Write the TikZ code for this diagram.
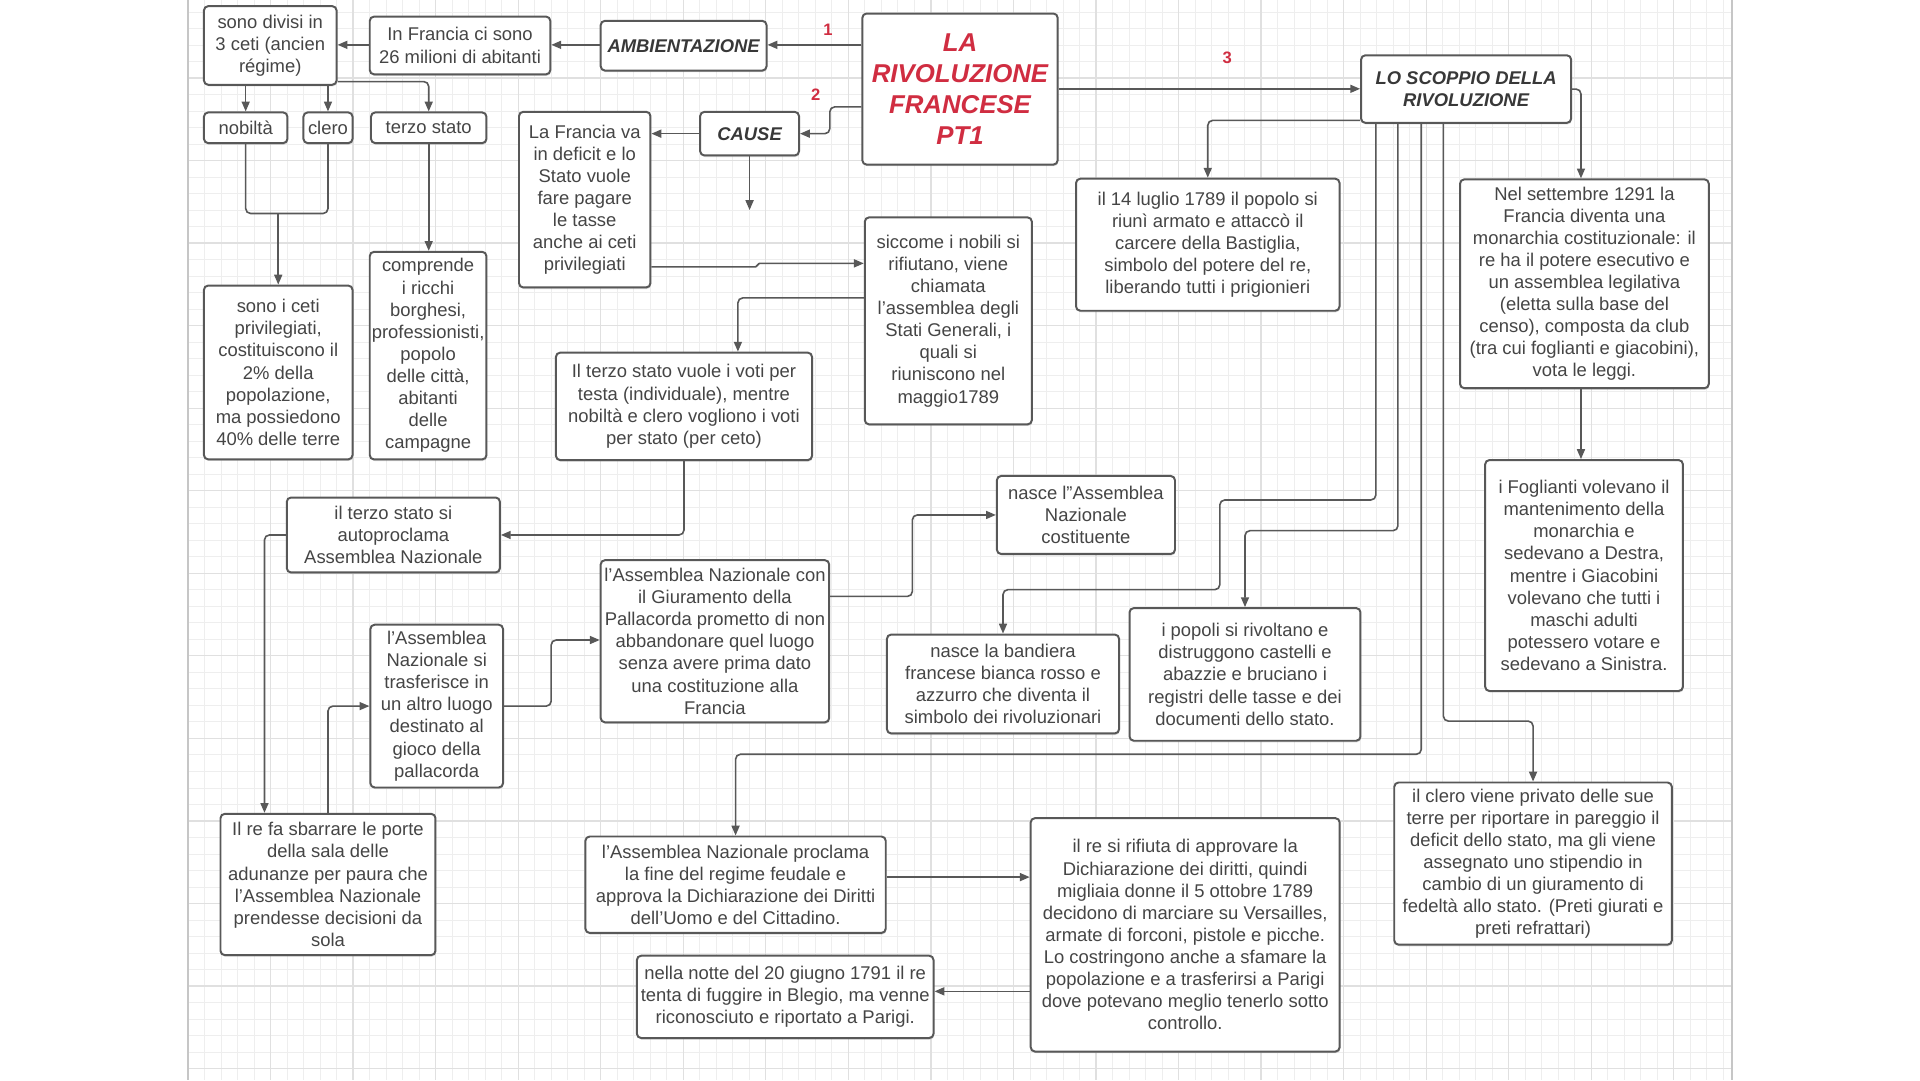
\documentclass[tikz,border=0pt]{standalone}
\usepackage{fontspec}
\setmainfont{Liberation Sans}
\usetikzlibrary{arrows.meta,shadows}
\definecolor{bordc}{HTML}{585858}
\definecolor{txtc}{HTML}{454545}
\definecolor{redc}{RGB}{208,45,65}
\definecolor{gridminor}{HTML}{EEEEEE}
\definecolor{gridmajor}{HTML}{E0E0E0}
\tikzset{
  box/.style={draw=bordc, line width=1.6pt, rounded corners=3.5pt, fill=white, text=txtc,
    align=center, inner sep=0pt, font=\fontsize{15}{18}\selectfont,
    drop shadow={shadow xshift=0.5pt,shadow yshift=-1.3pt,opacity=0.3}},
  headbox/.style={box, font=\fontsize{15}{18}\selectfont\bfseries\itshape, text=black!78},
  conn/.style={draw=bordc, line width=1.3pt, rounded corners=4pt},
  arr/.style={conn, -{Triangle[length=8pt,width=6.5pt]}},
  num/.style={text=redc, font=\fontsize{13.5}{15}\selectfont\bfseries, inner sep=0pt},
}
\begin{document}
\begin{tikzpicture}[x=1pt,y=-1pt]
\useasboundingbox (0,0) rectangle (1563,879.2);
\fill[white] (0,0) rectangle (1563,879.2);
% grid
\foreach \i in {0,...,93} \draw[gridminor, line width=0.7pt] ({153+\i*13.44},0) -- ({153+\i*13.44},879.2);
\foreach \k in {-4,...,60} \draw[gridminor, line width=0.7pt] (153,{63.5+\k*13.44}) -- (1410,{63.5+\k*13.44});
\foreach \i in {0,...,18} \draw[gridmajor, line width=1pt] ({153+\i*67.2},0) -- ({153+\i*67.2},879.2);
\foreach \k in {0,...,12} \draw[gridmajor, line width=1pt] (153,{63.5+\k*67.2}) -- (1410,{63.5+\k*67.2});
\draw[gray!45, line width=1.5pt] (153,0) -- (153,879.2);
\draw[gray!45, line width=1.5pt] (1410,0) -- (1410,879.2);

% nodes
\node[box, minimum width=159pt, minimum height=123pt, font=\fontsize{21}{25}\selectfont\bfseries\itshape, text=redc] (title) at (781.5,72.5) {LA\\RIVOLUZIONE\\FRANCESE\\PT1};
\node[headbox, minimum width=135pt, minimum height=40.5pt] (amb) at (556.5,37.2) {AMBIENTAZIONE};
\node[box, minimum width=147pt, minimum height=47pt] (francia) at (374.5,37) {In Francia ci sono\\26 milioni di abitanti};
\node[box, minimum width=108pt, minimum height=64pt] (divisi) at (220,37) {sono divisi in\\3 ceti (ancien\\régime)};
\node[box, minimum width=68pt, minimum height=25pt] (nobilta) at (200,104) {nobiltà};
\node[box, minimum width=40pt, minimum height=25pt] (clero) at (267,104) {clero};
\node[box, minimum width=94pt, minimum height=25pt] (terzo) at (349,104) {terzo stato};
\node[box, minimum width=121pt, minimum height=141.5pt] (privil) at (226.5,303.2) {sono i ceti\\privilegiati,\\costituiscono il\\2\% della\\popolazione,\\ma possiedono\\40\% delle terre};
\node[box, minimum width=95pt, minimum height=169pt] (comprende) at (348.5,289.5) {comprende\\i ricchi\\borghesi,\\professionisti,\\popolo\\delle città,\\abitanti\\delle\\campagne};
\node[headbox, minimum width=80.5pt, minimum height=35.5pt] (cause) at (610.2,108.8) {CAUSE};
\node[box, minimum width=107pt, minimum height=143pt] (deficit) at (476,162.5) {La Francia va\\in deficit e lo\\Stato vuole\\fare pagare\\le tasse\\anche ai ceti\\privilegiati};
\node[box, minimum width=136pt, minimum height=168.5pt] (siccome) at (772,261.2) {siccome i nobili si\\rifiutano, viene\\chiamata\\l'assemblea degli\\Stati Generali, i\\quali si\\riuniscono nel\\maggio1789};
\node[box, minimum width=208.5pt, minimum height=87.5pt] (votiper) at (556.8,330.8) {Il terzo stato vuole i voti per\\testa (individuale), mentre\\nobiltà e clero vogliono i voti\\per stato (per ceto)};
\node[box, minimum width=173.5pt, minimum height=61pt] (autopro) at (320.2,435.5) {il terzo stato si\\autoproclama\\Assemblea Nazionale};
\node[box, minimum width=186pt, minimum height=132pt] (giuram) at (582,522) {l'Assemblea Nazionale con\\il Giuramento della\\Pallacorda prometto di non\\abbandonare quel luogo\\senza avere prima dato\\una costituzione alla\\Francia};
\node[box, minimum width=145pt, minimum height=63.5pt] (costit) at (884,419.2) {nasce l"Assemblea\\Nazionale\\costituente};
\node[box, minimum width=108pt, minimum height=132.5pt] (trasf) at (355.5,574.8) {l'Assemblea\\Nazionale si\\trasferisce in\\un altro luogo\\destinato al\\gioco della\\pallacorda};
\node[box, minimum width=175pt, minimum height=115pt] (sbarrare) at (267,720) {Il re fa sbarrare le porte\\della sala delle\\adunanze per paura che\\l'Assemblea Nazionale\\prendesse decisioni da\\sola};
\node[box, minimum width=214.5pt, minimum height=107.5pt] (luglio) at (983.2,199.2) {il 14 luglio 1789 il popolo si\\riunì armato e attaccò il\\carcere della Bastiglia,\\simbolo del potere del re,\\liberando tutti i prigionieri};
\node[headbox, minimum width=171pt, minimum height=55pt] (scoppio) at (1193.5,72.5) {LO SCOPPIO DELLA\\RIVOLUZIONE};
\node[box, minimum width=202.5pt, minimum height=170pt] (settembre) at (1289.8,231) {Nel settembre 1291 la\\Francia diventa una\\monarchia costituzionale: il\\re ha il potere esecutivo e\\un assemblea legilativa\\(eletta sulla base del\\censo), composta da club\\(tra cui foglianti e giacobini),\\vota le leggi.};
\node[box, minimum width=161pt, minimum height=188pt] (foglianti) at (1289.5,468.5) {i Foglianti volevano il\\mantenimento della\\monarchia e\\sedevano a Destra,\\mentre i Giacobini\\volevano che tutti i\\maschi adulti\\potessero votare e\\sedevano a Sinistra.};
\node[box, minimum width=189pt, minimum height=80.5pt] (bandiera) at (816.5,556.8) {nasce la bandiera\\francese bianca rosso e\\azzurro che diventa il\\simbolo dei rivoluzionari};
\node[box, minimum width=188pt, minimum height=108pt] (popoli) at (1013.5,549) {i popoli si rivoltano e\\distruggono castelli e\\abazzie e bruciano i\\registri delle tasse e dei\\documenti dello stato.};
\node[box, minimum width=226pt, minimum height=132pt] (clerov) at (1248,703) {il clero viene privato delle sue\\terre per riportare in pareggio il\\deficit dello stato, ma gli viene\\assegnato uno stipendio in\\cambio di un giuramento di\\fedeltà allo stato. (Preti giurati e\\preti refrattari)};
\node[box, minimum width=244.5pt, minimum height=78.5pt] (feudale) at (598.8,720.2) {l'Assemblea Nazionale proclama\\la fine del regime feudale e\\approva la Dichiarazione dei Diritti\\dell'Uomo e del Cittadino.};
\node[box, minimum width=251.5pt, minimum height=190pt] (rifiuta) at (964.8,761) {il re si rifiuta di approvare la\\Dichiarazione dei diritti, quindi\\migliaia donne il 5 ottobre 1789\\decidono di marciare su Versailles,\\armate di forconi, pistole e picche.\\Lo costringono anche a sfamare la\\popolazione e a trasferirsi a Parigi\\dove potevano meglio tenerlo sotto\\controllo.};
\node[box, minimum width=241.5pt, minimum height=67pt] (notte) at (639.2,811.5) {nella notte del 20 giugno 1791 il re\\tenta di fuggire in Blegio, ma venne\\riconosciuto e riportato a Parigi.};

% labels
\node[num] (n1) at (674,24) {1};
\node[num] (n2) at (664,77) {2};
\node[num] (n3) at (999,47) {3};

\coordinate (causeend) at (610.2,171);

% connectors
\draw[arr] (title.west |- 0,36.5) -- (amb.east |- 0,36.5);
\draw[arr] (amb.west |- 0,36.5) -- (francia.east |- 0,36.5);
\draw[arr] (francia.west |- 0,36.5) -- (divisi.east |- 0,36.5);
\draw[arr] (divisi.south -| nobilta.north) -- (nobilta.north);
\draw[arr] (divisi.south -| clero.north) -- (clero.north);
\draw[arr] (divisi.east |- 0,66.4) -| (terzo.north);
\draw[arr] (terzo.south) -- (terzo.south |- comprende.north);
\draw[conn] (nobilta.south) |- (227,173.8) -| (clero.south);
\draw[arr] (privil.north |- 0,173.8) -- (privil.north);
\draw[arr] (title.west |- 0,87) -| (675.5,108.8) -- (cause.east |- 0,108.8);
\draw[arr] (cause.west) -- (deficit.east |- cause.west);
\draw[arr] (cause.south) -- (causeend);
\draw[arr, rounded corners=1.5pt] (deficit.east |- 0,217.3) -- (616.6,217.3) -- (616.6,214.4) -- (siccome.west |- 0,214.4);
\draw[arr] (siccome.west |- 0,242.5) -| (votiper.north -| 600.7,0);
\draw[arr] (votiper.south) |- (autopro.east);
\draw[arr] (autopro.west) -| (sbarrare.north -| 215.3,0);
\draw[arr] (sbarrare.north) |- (trasf.west);
\draw[arr] (trasf.east) -- (448.7,574.8) -- (448.7,521) -- (giuram.west |- 0,521);
\draw[arr] (giuram.east |- 0,485.5) -- (742.7,485.5) -- (742.7,419.2) -- (costit.west);
\draw[arr] (title.east |- 0,72.3) -- (scoppio.west |- 0,72.3);
\draw[arr] (scoppio.west |- 0,98) -| (luglio.north);
\draw[arr] (scoppio.east) -| (settembre.north -| 1287,0);
\draw[arr] (scoppio.south -| 1120,0) -- (1120,407) -- (993,407) -- (993,480) -- (816.5,480) -- (bandiera.north);
\draw[arr] (scoppio.south -| 1138,0) -- (1138,432) -- (1013.5,432) -- (popoli.north);
\draw[arr] (scoppio.south -| 1157,0) -- (1157,614) -- (598.8,614) -- (feudale.north);
\draw[arr] (scoppio.south -| 1175,0) -- (1175,587) -- (1248,587) -- (clerov.north);
\draw[arr] (settembre.south -| 1287,0) -- (foglianti.north -| 1287,0);
\draw[arr] (feudale.east |- 0,714) -- (rifiuta.west |- 0,714);
\draw[arr] (rifiuta.west |- 0,807) -- (notte.east |- 0,807);
\end{tikzpicture}
\end{document}
